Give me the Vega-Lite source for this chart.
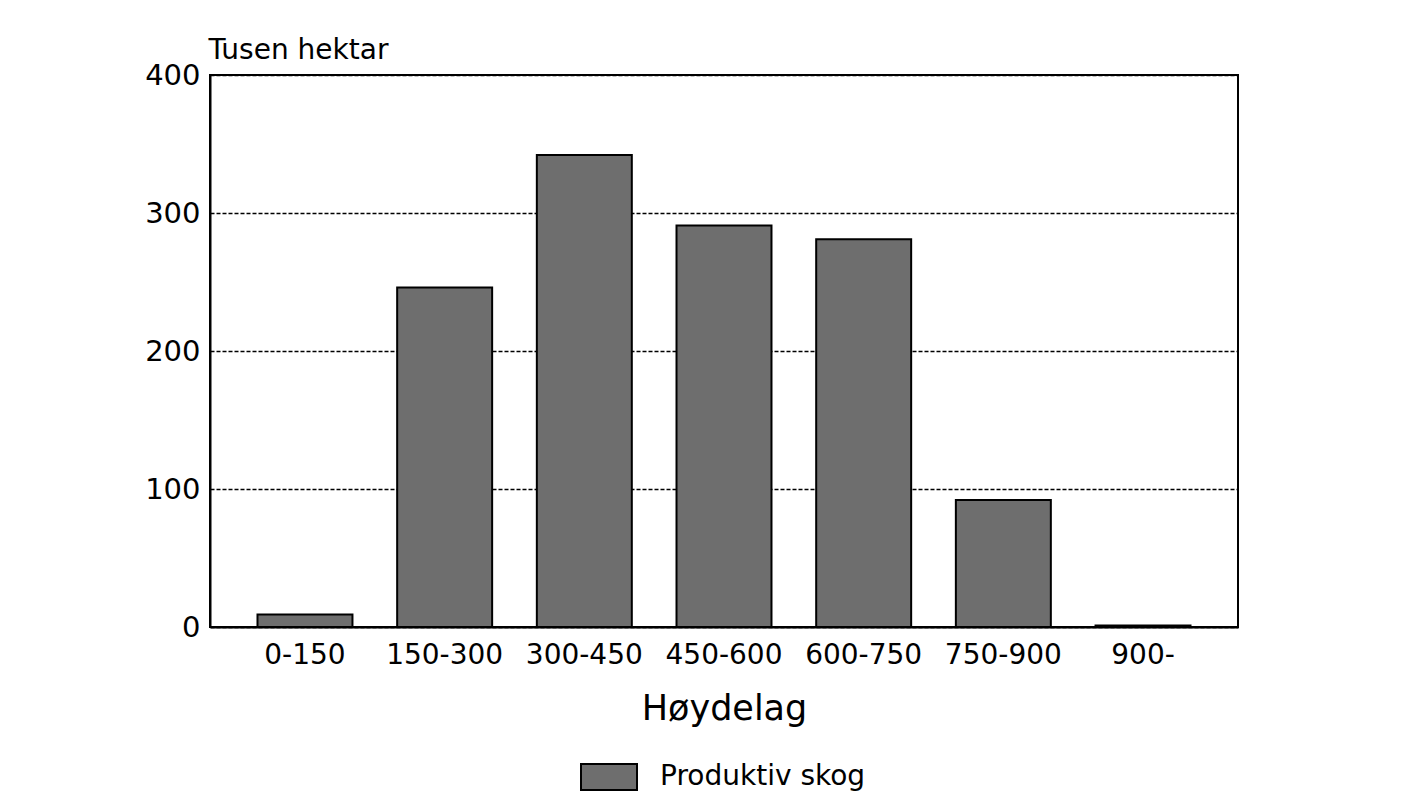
{
  "$schema": "https://vega.github.io/schema/vega-lite/v6.json",
  "width": 1028,
  "height": 552,
  "autosize": {"type": "none"},
  "padding": {"left": 210, "top": 75, "right": 169, "bottom": 166},
  "background": "white",
  "data": {
    "values": [
      {"hoydelag": "0-150", "hektar": 9, "serie": "Produktiv skog"},
      {"hoydelag": "150-300", "hektar": 246, "serie": "Produktiv skog"},
      {"hoydelag": "300-450", "hektar": 342, "serie": "Produktiv skog"},
      {"hoydelag": "450-600", "hektar": 291, "serie": "Produktiv skog"},
      {"hoydelag": "600-750", "hektar": 281, "serie": "Produktiv skog"},
      {"hoydelag": "750-900", "hektar": 92, "serie": "Produktiv skog"},
      {"hoydelag": "900-", "hektar": 1, "serie": "Produktiv skog"}
    ]
  },
  "mark": {"type": "bar", "stroke": "black", "strokeWidth": 2},
  "encoding": {
    "x": {
      "field": "hoydelag",
      "type": "nominal",
      "sort": null,
      "scale": {"paddingInner": 0.32, "paddingOuter": 0.34},
      "axis": {
        "title": "Høydelag",
        "titleFontSize": 35,
        "titleFontWeight": "normal",
        "titleBaseline": "alphabetic",
        "titleY": 92,
        "labelAngle": 0,
        "labelFontSize": 28,
        "labelPadding": 14,
        "labelBaseline": "top",
        "ticks": false,
        "domainColor": "black",
        "domainWidth": 2
      }
    },
    "y": {
      "field": "hektar",
      "type": "quantitative",
      "scale": {"domain": [0, 400], "nice": false},
      "axis": {
        "title": "Tusen hektar",
        "titleAngle": 0,
        "titleAlign": "left",
        "titleBaseline": "alphabetic",
        "titleX": -2,
        "titleY": -17,
        "titleFontSize": 28,
        "titleFontWeight": "normal",
        "values": [0, 100, 200, 300, 400],
        "labelFontSize": 29,
        "labelPadding": 10,
        "ticks": false,
        "grid": true,
        "gridColor": "black",
        "gridDash": [4, 2],
        "gridWidth": 1.3,
        "domainColor": "black",
        "domainWidth": 2
      }
    },
    "fill": {
      "field": "serie",
      "type": "nominal",
      "scale": {"range": ["#6e6e6e"]},
      "legend": {
        "title": null,
        "orient": "none",
        "legendX": 370,
        "legendY": 673,
        "padding": 0,
        "labelFontSize": 28,
        "labelLimit": 0,
        "labelOffset": 22,
        "symbolType": "M-1,-0.464H1V0.464H-1Z",
        "symbolSize": 3136,
        "symbolFillColor": "#6e6e6e",
        "symbolStrokeColor": "black",
        "symbolStrokeWidth": 2,
        "symbolOpacity": 1
      }
    }
  },
  "config": {
    "font": "DejaVu Sans",
    "view": {"stroke": "black", "strokeWidth": 2},
    "axis": {"labelColor": "black", "titleColor": "black", "labelFont": "DejaVu Sans", "titleFont": "DejaVu Sans"},
    "legend": {"labelColor": "black", "labelFont": "DejaVu Sans"}
  }
}
